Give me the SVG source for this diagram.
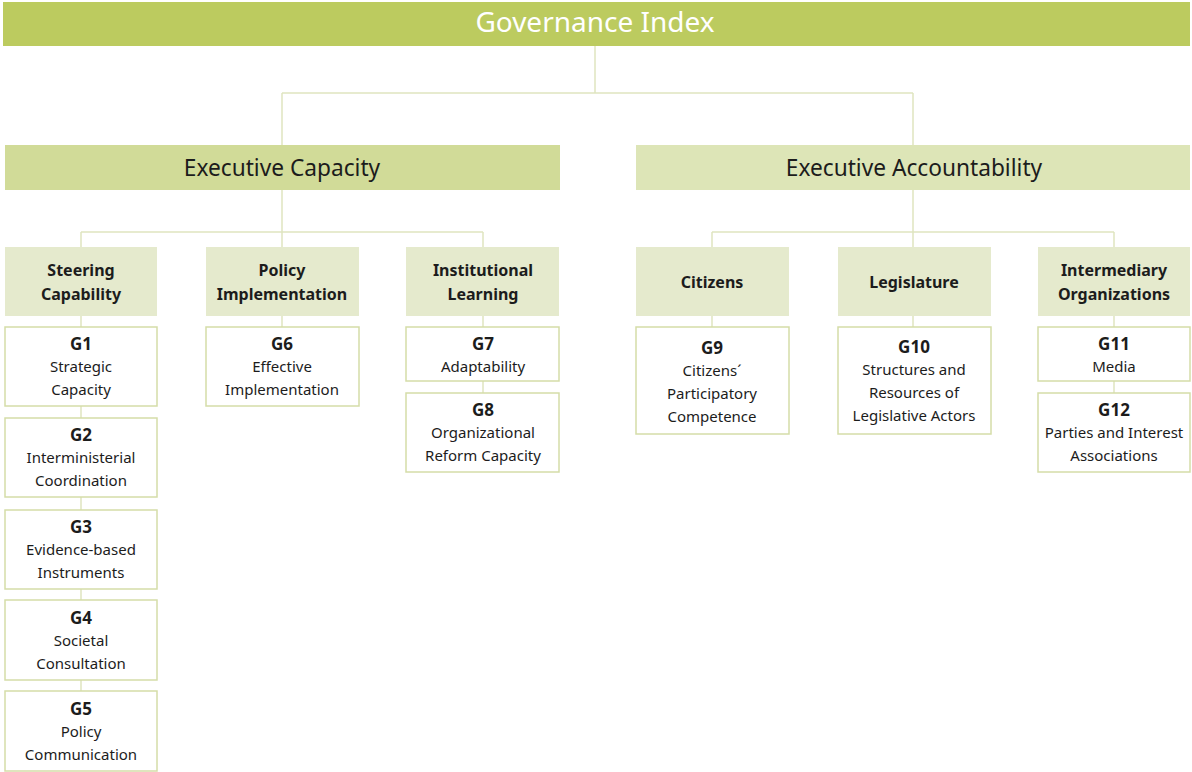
<svg xmlns="http://www.w3.org/2000/svg" width="1192" height="772" viewBox="0 0 1192 772">
<style>
.top{fill:#bccb5f}
.l1a{fill:#d1db98}
.l1b{fill:#dde5b7}
.l2{fill:#e5eacd}
.ind{fill:#ffffff;stroke:#d5dda8;stroke-width:1.5}
.con{fill:none;stroke:#dfe5c0;stroke-width:1.5}
text{font-family:"Noto Sans","Open Sans","Liberation Sans",sans-serif;fill:#1c1c1c;text-anchor:middle}
.tt{font-size:28px;fill:#ffffff}
.t1{font-size:22.7px}
.t2{font-size:16px;font-weight:bold}
.gh{font-size:17px;font-weight:bold}
.gt{font-size:15px}
</style>
<rect width="1192" height="772" fill="#ffffff"/>
<g id="connectors">
<path class="con" d="M595 46V93M282 93H913M282 93V145M913 93V145"/>
<path class="con" d="M282 190V232M81 232H483M81 232V247M282 232V247M483 232V247"/>
<path class="con" d="M913 190V232M712 232H1114M712 232V247M913 232V247M1114 232V247"/>
<path class="con" d="M81 316V327M81 406V418M81 497V510M81 589V600M81 680V691"/>
<path class="con" d="M282 316V327M483 316V327M483 381V393M712 316V327M913 316V327M1114 316V327M1114 381V393"/>
</g>
<g id="governance-index"><rect class="top" x="3" y="2" width="1187" height="44"/><text class="tt" x="595" y="32">Governance Index</text></g>
<g id="executive-capacity"><rect class="l1a" x="5" y="145" width="555" height="45"/><text class="t1" x="282" y="176">Executive Capacity</text></g>
<g id="executive-accountability"><rect class="l1b" x="636" y="145" width="554" height="45"/><text class="t1" x="914" y="176">Executive Accountability</text></g>

<g id="steering-capability"><rect class="l2" x="5" y="247" width="152" height="69"/><text class="t2" x="81" y="276">Steering</text><text class="t2" x="81" y="300">Capability</text></g>
<g id="policy-implementation"><rect class="l2" x="206" y="247" width="153" height="69"/><text class="t2" x="282" y="276">Policy</text><text class="t2" x="282" y="300">Implementation</text></g>
<g id="institutional-learning"><rect class="l2" x="406" y="247" width="153" height="69"/><text class="t2" x="483" y="276">Institutional</text><text class="t2" x="483" y="300">Learning</text></g>
<g id="citizens"><rect class="l2" x="636" y="247" width="153" height="69"/><text class="t2" x="712" y="288">Citizens</text></g>
<g id="legislature"><rect class="l2" x="838" y="247" width="153" height="69"/><text class="t2" x="914" y="288">Legislature</text></g>
<g id="intermediary-organizations"><rect class="l2" x="1038" y="247" width="152" height="69"/><text class="t2" x="1114" y="276">Intermediary</text><text class="t2" x="1114" y="300">Organizations</text></g>

<g id="g1"><rect class="ind" x="5" y="327" width="152" height="79"/><text class="gh" x="81" y="350">G1</text><text class="gt" x="81" y="372">Strategic</text><text class="gt" x="81" y="395">Capacity</text></g>
<g id="g2"><rect class="ind" x="5" y="418" width="152" height="79"/><text class="gh" x="81" y="441">G2</text><text class="gt" x="81" y="463">Interministerial</text><text class="gt" x="81" y="486">Coordination</text></g>
<g id="g3"><rect class="ind" x="5" y="510" width="152" height="79"/><text class="gh" x="81" y="533">G3</text><text class="gt" x="81" y="555">Evidence-based</text><text class="gt" x="81" y="578">Instruments</text></g>
<g id="g4"><rect class="ind" x="5" y="600" width="152" height="80"/><text class="gh" x="81" y="624">G4</text><text class="gt" x="81" y="646">Societal</text><text class="gt" x="81" y="669">Consultation</text></g>
<g id="g5"><rect class="ind" x="5" y="691" width="152" height="80"/><text class="gh" x="81" y="715">G5</text><text class="gt" x="81" y="737">Policy</text><text class="gt" x="81" y="760">Communication</text></g>
<g id="g6"><rect class="ind" x="206" y="327" width="153" height="79"/><text class="gh" x="282" y="350">G6</text><text class="gt" x="282" y="372">Effective</text><text class="gt" x="282" y="395">Implementation</text></g>
<g id="g7"><rect class="ind" x="406" y="327" width="153" height="54"/><text class="gh" x="483" y="350">G7</text><text class="gt" x="483" y="372">Adaptability</text></g>
<g id="g8"><rect class="ind" x="406" y="393" width="153" height="79"/><text class="gh" x="483" y="416">G8</text><text class="gt" x="483" y="438">Organizational</text><text class="gt" x="483" y="461">Reform Capacity</text></g>
<g id="g9"><rect class="ind" x="636" y="327" width="153" height="107"/><text class="gh" x="712" y="354">G9</text><text class="gt" x="712" y="376">Citizens´</text><text class="gt" x="712" y="399">Participatory</text><text class="gt" x="712" y="422">Competence</text></g>
<g id="g10"><rect class="ind" x="838" y="327" width="153" height="107"/><text class="gh" x="914" y="353">G10</text><text class="gt" x="914" y="375">Structures and</text><text class="gt" x="914" y="398">Resources of</text><text class="gt" x="914" y="421">Legislative Actors</text></g>
<g id="g11"><rect class="ind" x="1038" y="327" width="152" height="54"/><text class="gh" x="1114" y="350">G11</text><text class="gt" x="1114" y="372">Media</text></g>
<g id="g12"><rect class="ind" x="1038" y="393" width="152" height="79"/><text class="gh" x="1114" y="416">G12</text><text class="gt" x="1114" y="438">Parties and Interest</text><text class="gt" x="1114" y="461">Associations</text></g>
</svg>
